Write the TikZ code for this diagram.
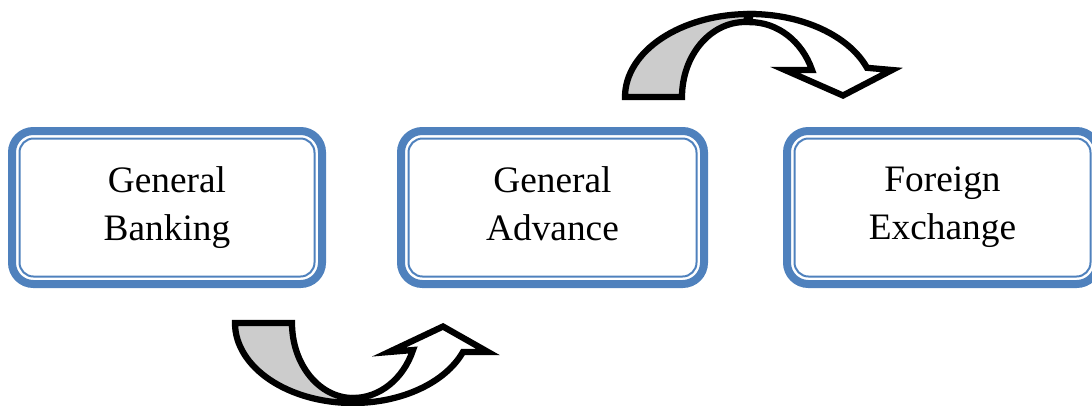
\documentclass[tikz,border=0pt]{standalone}
\usepackage{fontspec}
\setmainfont{Liberation Serif}
\usetikzlibrary{calc}
\definecolor{boxblue}{HTML}{4F81BD}
\begin{document}
\begin{tikzpicture}[x=0.75pt,y=-0.75pt,
  box/.style={draw=boxblue, line width=6pt, rounded corners=16pt, outer sep=0pt,
    align=center, inner sep=0pt, font=\fontsize{28}{36}\selectfont,
    minimum height=114.75pt},
  boxin/.style={draw=boxblue, line width=1.5pt, rounded corners=10.5pt},
  backband/.style={draw=black, fill=gray!40, line width=4.7pt, line join=miter},
  frontband/.style={draw=black, fill=white, line width=4.7pt, line join=miter}]
\useasboundingbox (0,0) rectangle (1092,405);
% boxes
\node[box, minimum width=232.5pt] (b1) at (167,207.5) {General\\Banking\vphantom{g}};
\node[box, minimum width=227.25pt] (b2) at (552.5,207.5) {General\\Advance\vphantom{g}};
\node[box, minimum width=233.25pt] (b3) at (942.5,207.5) {Foreign\\Exchange\vphantom{g}};
\foreach \b in {b1,b2,b3}
  \draw[boxin] ($(\b.north west)+(7.5,7.5)$) rectangle ($(\b.south east)+(-7.5,-7.5)$);
% top curved arrow
\draw[backband] (625,97) arc[start angle=180, end angle=270, x radius=125, y radius=83]
  -- (745,22) arc[start angle=270, end angle=180, x radius=63, y radius=75] -- cycle;
\draw[frontband] (750,14) arc[start angle=270, end angle=339.4, x radius=125, y radius=83]
  -- (892,70) -- (843,95.5) -- (785,70) -- (812,70)
  arc[start angle=338.8, end angle=270, x radius=66.5, y radius=75] -- cycle;
% bottom curved arrow
\draw[backband] (235,323) arc[start angle=180, end angle=90, x radius=118, y radius=80]
  -- (353,398) arc[start angle=90, end angle=180, x radius=61, y radius=75] -- cycle;
\draw[frontband] (353,403) arc[start angle=90, end angle=21.2, x radius=118, y radius=80]
  -- (488,352) -- (443,326.5) -- (389,352) -- (413,350)
  arc[start angle=21.1, end angle=90, x radius=64.3, y radius=75] -- cycle;
\end{tikzpicture}
\end{document}
